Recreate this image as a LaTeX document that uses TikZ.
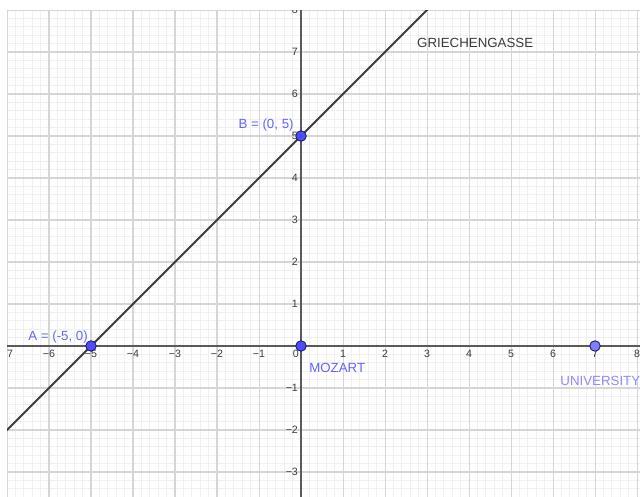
\documentclass[tikz,border=0pt]{standalone}
\usepackage{fontspec}
\setmainfont{Liberation Sans}
\usetikzlibrary{positioning}

\definecolor{ptblue}{HTML}{4D4DFF}
\definecolor{ptlight}{HTML}{7F7FFF}
\definecolor{ptedge}{HTML}{1A1A66}
\definecolor{lblblue}{HTML}{6464FF}
\definecolor{lbllight}{HTML}{8C8CFF}
\definecolor{gridminor}{HTML}{F0F0F0}
\definecolor{gridmajor}{HTML}{D6D6D6}
\definecolor{axisgray}{HTML}{5A5A5A}
\definecolor{roadgray}{HTML}{3C3C3C}

\begin{document}
\begin{tikzpicture}[x=1cm, y=1cm,
    pt/.style={circle, draw=ptedge, fill=ptblue, line width=0.6pt, minimum size=0.25cm, inner sep=0pt},
    lbl/.style={text=lblblue, font=\fontsize{9}{11}\selectfont, inner sep=0pt},
    ticklbl/.style={text=roadgray, font=\fontsize{7.2}{8}\selectfont, inner sep=0.5pt}]
    \useasboundingbox[fill=white] (-7.167,-3.595) rectangle (8.071,8.238);
    \begin{scope}
        \clip (-7,-3.6) rectangle (8.1,7.98);
        % grid
        \draw[gridminor, line width=0.5pt, step=0.2] (-7.2,-3.8) grid (8.2,8.2);
        \draw[gridmajor, line width=0.7pt, step=1] (-7.2,-3.8) grid (8.2,8.2);
        % axes
        \draw[axisgray, line width=1pt] (-7.2,0) -- (8.2,0);
        \draw[axisgray, line width=1pt] (0,-3.8) -- (0,8.2);
        % tick labels
        \foreach \x in {1,...,7}
            \node[ticklbl, anchor=north] (xm\x) at (-\x,-0.07) {−\x};
        \foreach \x in {1,...,8}
            \node[ticklbl, anchor=north] (xp\x) at (\x,-0.07) {\x};
        \foreach \y in {1,...,8}
            \node[ticklbl, anchor=east] (yp\y) at (-0.05,\y) {\y};
        \foreach \y in {1,...,3}
            \node[ticklbl, anchor=east] (ym\y) at (-0.05,-\y) {−\y};
        \node[ticklbl, anchor=north east] (o) at (-0.03,-0.07) {0};
        % Griechengasse
        \coordinate (lineS) at (-7.3,-2.3);
        \coordinate (lineE) at (3.1,8.1);
        \draw[roadgray, line width=1.4pt] (lineS) -- (lineE);
    \end{scope}
    % points
    \node[pt] (A) at (-5,0) {};
    \node[pt] (B) at (0,5) {};
    \node[pt] (M) at (0,0) {};
    \node[pt, fill=ptlight] (U) at (7,0) {};
    % labels
    \node[lbl, anchor=base east, xshift=-0.07cm, yshift=0.14cm] (Alab) at (A) {A = (-5, 0)};
    \node[lbl, anchor=base east, xshift=-0.17cm, yshift=0.17cm] (Blab) at (B) {B = (0, 5)};
    \node[lbl, anchor=base west, xshift=0.19cm, yshift=-0.64cm] (Mlab) at (M) {MOZART};
    \node[lbl, text=lbllight, anchor=base west, xshift=-0.83cm, yshift=-0.93cm] (Ulab) at (U) {UNIVERSITY};
    \node[lbl, text=roadgray, anchor=base west] (road) at (2.76,7.1) {GRIECHENGASSE};
\end{tikzpicture}
\end{document}
